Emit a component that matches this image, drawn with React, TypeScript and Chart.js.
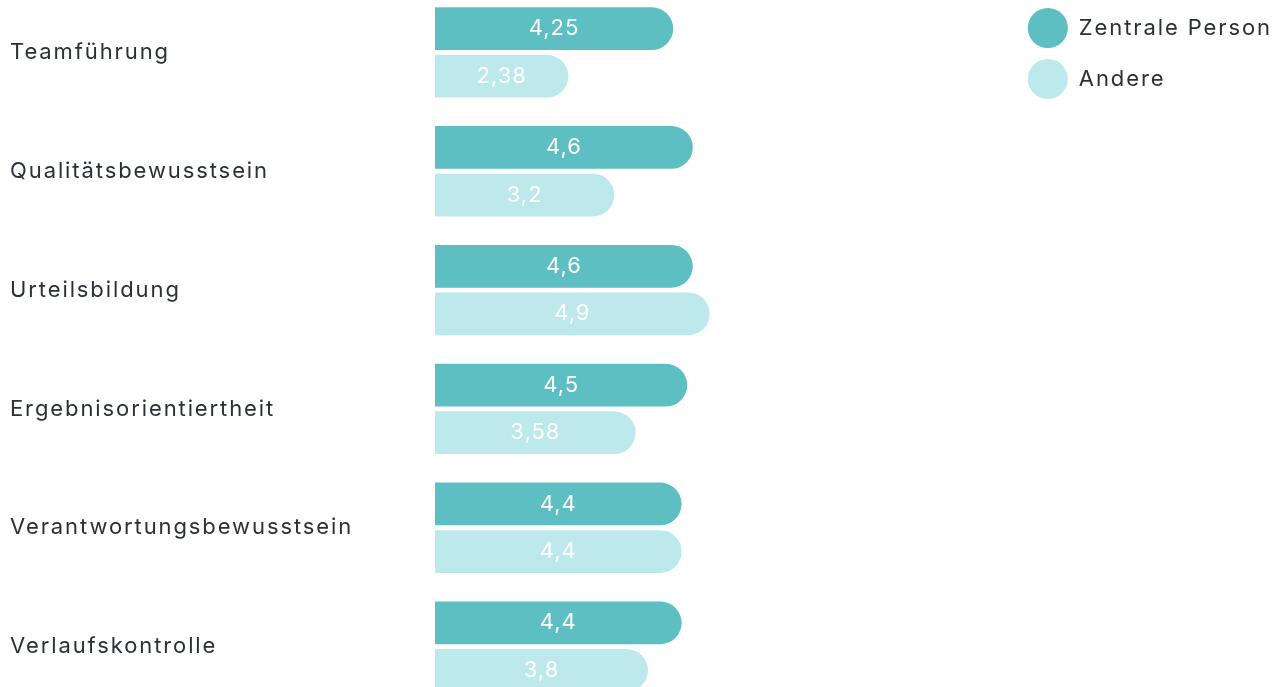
import React, { useEffect, useRef } from "react";
import { Chart, registerables } from "chart.js";

Chart.register(...registerables);

const categories = [
  "Teamführung",
  "Qualitätsbewusstsein",
  "Urteilsbildung",
  "Ergebnisorientiertheit",
  "Verantwortungsbewusstsein",
  "Verlaufskontrolle",
];
const seriesNames = ["Zentrale Person", "Andere"];
const zentralePerson = [4.25, 4.6, 4.6, 4.5, 4.4, 4.4];
const andere = [2.38, 3.2, 4.9, 3.58, 4.4, 3.8];

const DARK = "#5dbfc2";
const LIGHT = "#bee9ec";
const TEXT = "#2b3038";
const FONT = "Inter, 'Noto Sans', sans-serif";
const SPACING = "1.9px";

const letterSpacing = {
  id: "letterSpacing",
  beforeUpdate(chart: any) {
    chart.ctx.letterSpacing = SPACING;
  },
  beforeLayout(chart: any) {
    chart.ctx.letterSpacing = SPACING;
  },
  beforeDraw(chart: any) {
    chart.ctx.letterSpacing = SPACING;
  },
};

const valueLabels = {
  id: "valueLabels",
  afterDatasetsDraw(chart: any) {
    const ctx = chart.ctx;
    ctx.save();
    ctx.letterSpacing = "1px";
    ctx.fillStyle = "#ffffff";
    ctx.font = `400 22px ${FONT}`;
    ctx.textAlign = "center";
    ctx.textBaseline = "middle";
    chart.data.datasets.forEach((ds: any, di: number) => {
      const meta = chart.getDatasetMeta(di);
      if (meta.hidden) return;
      meta.data.forEach((bar: any, i: number) => {
        const v = ds.data[i];
        const text = String(v).replace(".", ",");
        const cx = (bar.base + bar.x) / 2;
        ctx.fillText(text, cx, bar.y);
      });
    });
    ctx.restore();
  },
};

export default function App() {
  const ref = useRef<HTMLCanvasElement | null>(null);
  useEffect(() => {
    if (!ref.current) return;
    const chart = new Chart(ref.current, {
      type: "bar",
      data: {
        labels: categories,
        datasets: [
          {
            label: seriesNames[0],
            data: zentralePerson,
            backgroundColor: DARK,
            borderRadius: 22,
            borderSkipped: "start",
          },
          {
            label: seriesNames[1],
            data: andere,
            backgroundColor: LIGHT,
            borderRadius: 22,
            borderSkipped: "start",
          },
        ],
      },
      options: {
        indexAxis: "y",
        animation: false,
        responsive: true,
        maintainAspectRatio: false,
        layout: { padding: { left: 10, right: -3, top: 0, bottom: 0 } },
        scales: {
          x: { display: false, min: 0, max: 10.38 },
          y: {
            grid: { display: false },
            border: { display: false },
            ticks: {
              crossAlign: "far",
              padding: 0,
              color: TEXT,
              font: { family: FONT, size: 22 },
            },
            afterFit(axis: any) {
              axis.width = 425;
              axis.paddingTop = 0;
              axis.paddingBottom = 0;
            },
          },
        },
        plugins: {
          tooltip: { enabled: false },
          legend: {
            position: "right",
            align: "start",
            title: {
              display: true,
              text: "",
              font: { size: 1, lineHeight: 1 },
              padding: { top: 3, bottom: 0 },
            },
            labels: {
              boxWidth: 40,
              boxHeight: 40,
              useBorderRadius: true,
              borderRadius: 20,
              padding: 11,
              color: TEXT,
              font: { family: FONT, size: 22 },
            },
          },
        },
      },
      plugins: [letterSpacing, valueLabels],
    });
    return () => chart.destroy();
  }, []);
  return (
    <div style={{ position: "fixed", left: 0, top: 0, right: 0, bottom: 0, overflow: "hidden" }}>
      <div style={{ position: "absolute", left: 0, top: "-7px", width: "1279px", height: "713px" }}>
        <canvas ref={ref} />
      </div>
    </div>
  );
}
